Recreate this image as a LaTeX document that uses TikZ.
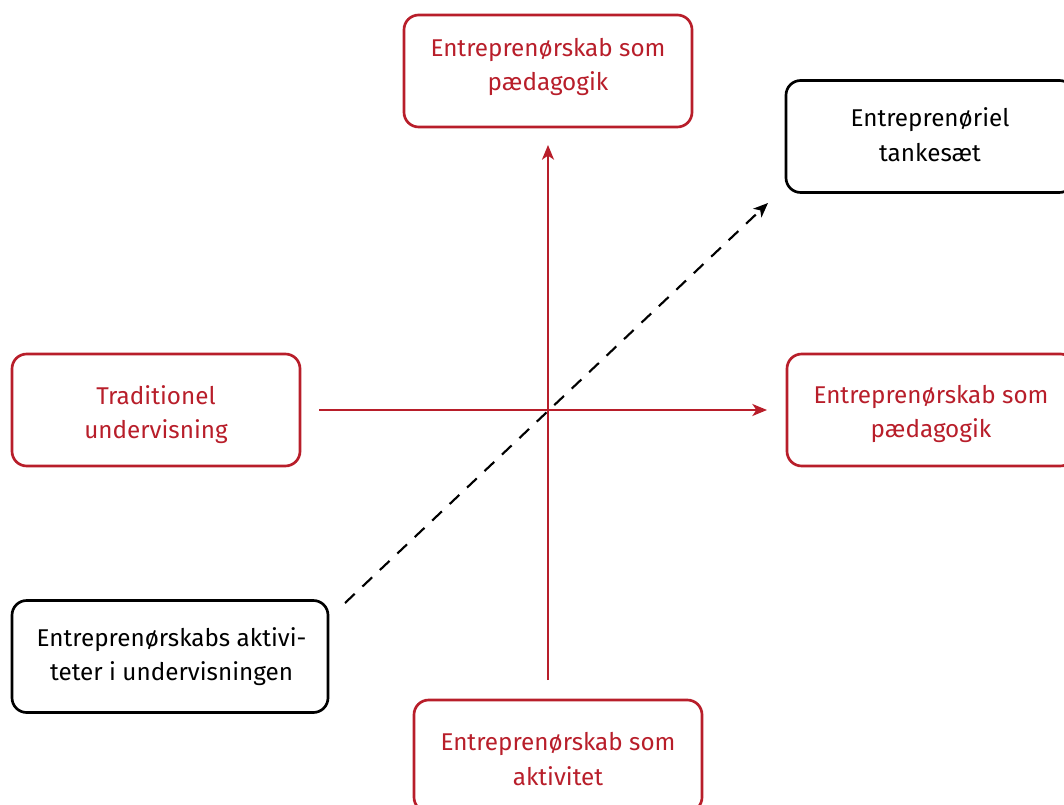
\documentclass[tikz,border=0pt]{standalone}
\usepackage{fontspec}
\setmainfont{Fira Sans}
\usetikzlibrary{arrows.meta}
\definecolor{dred}{RGB}{184,30,42}
\tikzset{
  box/.style={draw, rounded corners=11pt, line width=2pt, minimum width=216pt, minimum height=84pt, inner sep=0pt},
  redbox/.style={box, draw=dred},
  blkbox/.style={box, draw=black},
  txt/.style={align=center, inner sep=0pt, font=\fontsize{18.2pt}{25.8pt}\selectfont},
  redtxt/.style={txt, text=dred},
  blktxt/.style={txt, text=black},
  arr/.style={line width=1.6pt, -{Stealth[length=11pt,width=9pt,inset=3pt]}},
}
\begin{document}
\begin{tikzpicture}[x=0.75pt,y=-0.75pt]
\useasboundingbox (0,0) rectangle (1064,805);
\clip (0,0) rectangle (1064,805);
\node[redbox] (top) at (548,71) {};
\node[redtxt] (toptext) at ([yshift=3pt]top.center) {Entreprenørskab som\\pædagogik};
\node[blkbox] (tr) at (930,136.5) {};
\node[blktxt] (trtext) at ([yshift=1.5pt]tr.center) {Entreprenøriel\\tankesæt};
\node[redbox] (right) at (931,410) {};
\node[redtxt] (righttext) at ([yshift=-3pt]right.center) {Entreprenørskab som\\pædagogik};
\node[redbox] (left) at (156,410) {};
\node[redtxt] (lefttext) at ([yshift=-3.3pt]left.center) {Traditionel\\undervisning};
\node[blkbox, minimum width=237pt] (bl) at (170,656.5) {};
\node[blktxt] (bltext) at ([xshift=1.2pt]bl.center) {Entreprenørskabs aktivi-\\teter i undervisningen};
\node[redbox] (bottom) at (558,756) {};
\node[redtxt] (bottomtext) at ([yshift=-2.2pt]bottom.center) {Entreprenørskab som\\aktivitet};
\coordinate (vs) at (548,680);
\coordinate (ve) at (548,145);
\coordinate (ds) at (345,603);
\coordinate (de) at (768,203);
\draw[arr, dred] (vs) -- (ve);
\draw[arr, dred, shorten <=13.5pt, shorten >=14pt] (left.east) -- (right.west);
\draw[arr, black, dash pattern=on 10pt off 8pt] (ds) -- (de);
\end{tikzpicture}
\end{document}
